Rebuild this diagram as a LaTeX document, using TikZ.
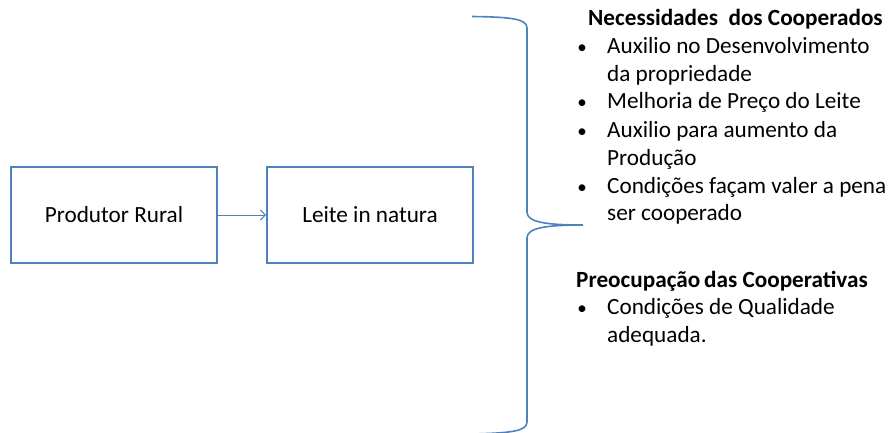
\documentclass[tikz,border=0pt]{standalone}
\usepackage{fontspec}
\setmainfont{Carlito}
\usetikzlibrary{arrows.meta}
\definecolor{obl}{HTML}{4F81BD}
\begin{document}
\begin{tikzpicture}[x=1pt,y=-1pt,
  box/.style={draw=obl,line width=1.8pt,minimum width=206pt,minimum height=96pt,inner sep=0pt,font=\fontsize{23.2}{27}\selectfont},
  txt/.style={anchor=base west,inner sep=0pt,font=\fontsize{23.2}{27}\selectfont},
  hd/.style={txt,font=\fontsize{23.2}{27}\selectfont\bfseries},
  bul/.style={anchor=base,inner sep=0pt,font=\fontsize{19}{22}\selectfont}]
\useasboundingbox (0,0) rectangle (889,432);
\node[box] (pr) at (114,215) {Produtor Rural};
\node[box] (lt) at (370,215) {Leite in natura};
\draw[obl,line width=1pt,-{Straight Barb[length=5pt,width=10pt]}] (pr.east) -- (lt.west);
% brace
\draw[obl,line width=1.6pt] (472,16.5) .. controls (512,17) and (527,19) .. (527,28)
  -- (527,212) .. controls (527,222) and (545,225) .. (583,225)
  .. controls (545,225) and (527,228) .. (527,238)
  -- (527,422) .. controls (527,431) and (512,433) .. (472,434);
% upper list
\node[hd] (h1) at (588,25) {Necessidades\ \ dos Cooperados};
\node[bul] (b1) at (582,53) {•};
\node[txt] (l1) at (607,53) {Auxilio no Desenvolvimento};
\node[txt] (l2) at (607,81) {da propriedade};
\node[bul] (b2) at (582,108) {•};
\node[txt] (l3) at (607,108) {Melhoria de Preço do Leite};
\node[bul] (b3) at (582,137) {•};
\node[txt] (l4) at (607,137) {Auxilio para aumento da};
\node[txt] (l5) at (607,165) {Produção};
\node[bul] (b4) at (582,193) {•};
\node[txt] (l6) at (607,193) {Condições façam valer a pena};
\node[txt] (l7) at (607,220) {ser cooperado};
% lower list
\node[hd] (h2) at (576,287) {Preocupação\,das Cooperativas};
\node[bul] (b5) at (582,314) {•};
\node[txt] (l8) at (607,314) {Condições de Qualidade};
\node[txt] (l9) at (607,342) {adequada.};
\end{tikzpicture}
\end{document}
